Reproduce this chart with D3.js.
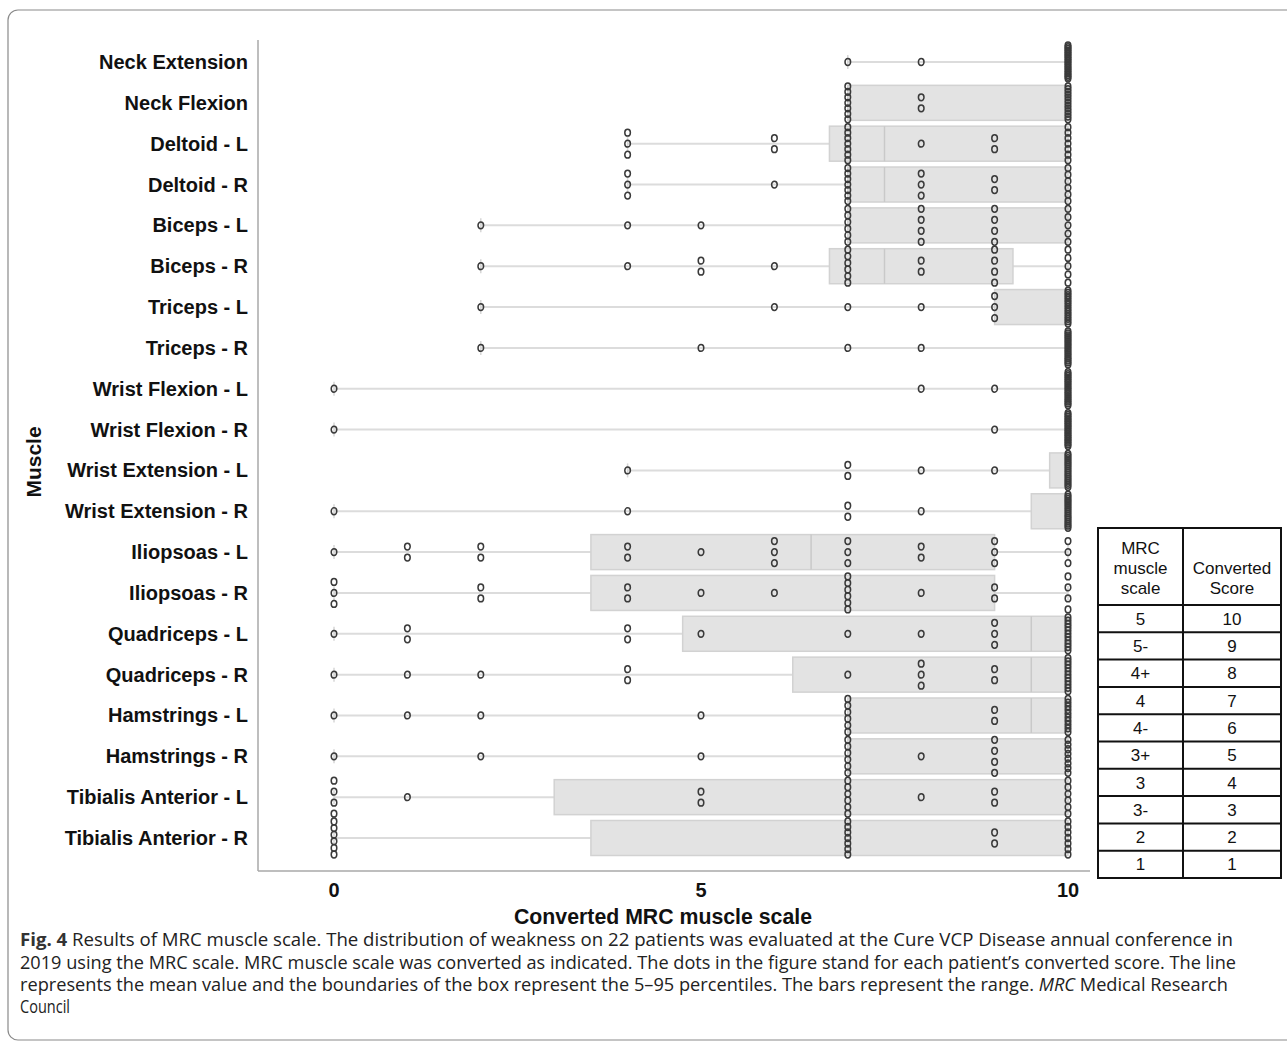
<!DOCTYPE html>
<html>
<head>
<meta charset="utf-8">
<script src="https://cdn.jsdelivr.net/npm/d3@7"></script>
<style>
  body { margin: 0; background: #fff; }
  svg { display: block; }
</style>
</head>
<body>
<svg id="chart" width="1287" height="1046"></svg>
<script>
// muscles, top to bottom
const muscles = [
  'Neck Extension', 'Neck Flexion', 'Deltoid - L', 'Deltoid - R',
  'Biceps - L', 'Biceps - R', 'Triceps - L', 'Triceps - R',
  'Wrist Flexion - L', 'Wrist Flexion - R', 'Wrist Extension - L', 'Wrist Extension - R',
  'Iliopsoas - L', 'Iliopsoas - R', 'Quadriceps - L', 'Quadriceps - R',
  'Hamstrings - L', 'Hamstrings - R', 'Tibialis Anterior - L', 'Tibialis Anterior - R'
];

// number of patients at each converted score 0..10 (22 patients per muscle)
const scores = [0, 1, 2, 3, 4, 5, 6, 7, 8, 9, 10];
const counts = [
  [0,0,0,0,0,0,0,1,1,0,20],
  [0,0,0,0,0,0,0,7,2,0,13],
  [0,0,0,0,3,0,2,7,1,2,7],
  [0,0,0,0,3,0,1,7,3,2,6],
  [0,0,1,0,1,1,0,6,4,4,5],
  [0,0,1,0,1,2,1,6,2,4,5],
  [0,0,1,0,0,0,1,1,1,3,15],
  [0,0,1,0,0,1,0,1,1,0,18],
  [1,0,0,0,0,0,0,0,1,1,19],
  [1,0,0,0,0,0,0,0,0,1,20],
  [0,0,0,0,1,0,0,2,1,1,17],
  [1,0,0,0,1,0,0,2,1,0,17],
  [1,2,2,0,2,1,3,3,2,3,3],
  [3,0,2,0,2,1,1,6,1,2,4],
  [1,2,0,0,2,1,0,1,1,3,11],
  [1,1,1,0,2,0,0,1,3,2,11],
  [1,1,1,0,0,1,0,6,0,2,10],
  [1,0,1,0,0,1,0,6,1,4,8],
  [4,1,0,0,0,2,0,6,1,2,6],
  [6,0,0,0,0,0,0,7,0,2,7]
];

// 5-95 percentile box and centre line (null = not drawn)
const boxLow  = [null, 7, 6.75, 7, 7, 6.75, 9, null, null, null, 9.75, 9.5, 3.5, 3.5, 4.75, 6.25, 7, 7, 3, 3.5];
const boxHigh = [null, 10, 10, 10, 10, 9.25, 10, null, null, null, 10, 10, 9, 9, 10, 10, 10, 10, 10, 10];
const midLine = [null, null, 7.5, 7.5, null, 7.5, null, null, null, null, null, null, 6.5, null, 9.5, 9.5, 9.5, null, null, null];

const xTicks = [0, 5, 10];

// conversion table
const mrcScale = ['5', '5-', '4+', '4', '4-', '3+', '3', '3-', '2', '1'];
const convertedScore = ['10', '9', '8', '7', '6', '5', '4', '3', '2', '1'];

const captionLines = [
  'Results of MRC muscle scale. The distribution of weakness on 22 patients was evaluated at the Cure VCP Disease annual conference in',
  '2019 using the MRC scale. MRC muscle scale was converted as indicated. The dots in the figure stand for each patient\u2019s converted score. The line',
  'represents the mean value and the boundaries of the box represent the 5\u201395 percentiles. The bars represent the range. ',
  'Council'
];

const svg = d3.select('#chart');
const labelFont = 'Liberation Sans, Arial, sans-serif';

// outer frame
svg.append('rect')
  .attr('x', 8).attr('y', 10)
  .attr('width', 1300).attr('height', 1030)
  .attr('rx', 10)
  .attr('fill', 'none')
  .attr('stroke', '#8a8a8a')
  .attr('stroke-width', 1.2);

const x = d3.scaleLinear().domain([0, 10]).range([334, 1068]);
const y = d3.scalePoint().domain(muscles).range([62, 838]);
const boxH = 35;

// plot frame lines
svg.append('line')
  .attr('x1', 258).attr('x2', 258).attr('y1', 40).attr('y2', 871)
  .attr('stroke', '#a8a8a8').attr('stroke-width', 1.5);
svg.append('line')
  .attr('x1', 258).attr('x2', 1090).attr('y1', 871).attr('y2', 871)
  .attr('stroke', '#a8a8a8').attr('stroke-width', 1.5);

const rows = svg.append('g').selectAll('g')
  .data(muscles)
  .join('g')
  .attr('transform', d => `translate(0,${y(d)})`);

rows.each(function (m, i) {
  const g = d3.select(this);
  const present = scores.filter((s, k) => counts[i][k] > 0);
  const lo = d3.min(present), hi = d3.max(present);
  // range bar
  g.append('line')
    .attr('x1', x(lo)).attr('x2', x(hi)).attr('y1', 0).attr('y2', 0)
    .attr('stroke', '#dcdcdc').attr('stroke-width', 2);
  [lo, hi].forEach(v => {
    g.append('line')
      .attr('x1', x(v)).attr('x2', x(v)).attr('y1', -7).attr('y2', 7)
      .attr('stroke', '#d6d6d6').attr('stroke-width', 1.5);
  });

  if (boxLow[i] !== null) {
    g.append('rect')
      .attr('x', x(boxLow[i]))
      .attr('y', -boxH / 2)
      .attr('width', x(boxHigh[i]) - x(boxLow[i]))
      .attr('height', boxH)
      .attr('fill', '#e3e3e3')
      .attr('stroke', '#d2d2d2')
      .attr('stroke-width', 1.5);
  }
  if (midLine[i] !== null) {
    g.append('line')
      .attr('x1', x(midLine[i])).attr('x2', x(midLine[i]))
      .attr('y1', -boxH / 2).attr('y2', boxH / 2)
      .attr('stroke', '#c9c9c9').attr('stroke-width', 1.5);
  }

  // patient dots, stacked vertically
  scores.forEach((s, k) => {
    const n = counts[i][k];
    if (!n) return;
    const step = n > 1 ? Math.min(11, 33 / (n - 1)) : 0;
    d3.range(n).forEach(j => {
      g.append('ellipse')
        .attr('cx', x(s))
        .attr('cy', (j - (n - 1) / 2) * step)
        .attr('rx', 2.8).attr('ry', 3.4)
        .attr('fill', 'none')
        .attr('stroke', '#3a3a3a')
        .attr('stroke-width', 1.5);
    });
  });
});

// y labels
svg.append('g').selectAll('text')
  .data(muscles)
  .join('text')
  .attr('x', 248)
  .attr('y', d => y(d))
  .attr('dy', '0.35em')
  .attr('text-anchor', 'end')
  .attr('font-family', labelFont)
  .attr('font-weight', 'bold')
  .attr('font-size', 20)
  .attr('fill', '#111')
  .text(d => d);

svg.append('text')
  .attr('transform', 'translate(41,462) rotate(-90)')
  .attr('text-anchor', 'middle')
  .attr('font-family', labelFont)
  .attr('font-weight', 'bold')
  .attr('font-size', 21)
  .attr('fill', '#111')
  .text('Muscle');

// x ticks
svg.append('g').selectAll('text')
  .data(xTicks)
  .join('text')
  .attr('x', d => x(d))
  .attr('y', 897)
  .attr('text-anchor', 'middle')
  .attr('font-family', labelFont)
  .attr('font-weight', 'bold')
  .attr('font-size', 20)
  .attr('fill', '#111')
  .text(d => d);

svg.append('text')
  .attr('x', 663)
  .attr('y', 924)
  .attr('text-anchor', 'middle')
  .attr('font-family', labelFont)
  .attr('font-weight', 'bold')
  .attr('font-size', 22)
  .attr('textLength', 298)
  .attr('lengthAdjust', 'spacingAndGlyphs')
  .attr('fill', '#111')
  .text('Converted MRC muscle scale');

// conversion table
const tx0 = 1098, tx1 = 1183, tx2 = 1281, ty0 = 528, tyH = 605, rowH = 27.3;
const table = svg.append('g')
  .attr('font-family', labelFont)
  .attr('font-size', 17)
  .attr('fill', '#111');
table.append('rect')
  .attr('x', tx0).attr('y', ty0)
  .attr('width', tx2 - tx0).attr('height', tyH + rowH * mrcScale.length - ty0)
  .attr('fill', '#fff').attr('stroke', '#111').attr('stroke-width', 2);
table.append('line')
  .attr('x1', tx1).attr('x2', tx1).attr('y1', ty0).attr('y2', tyH + rowH * mrcScale.length)
  .attr('stroke', '#111').attr('stroke-width', 2);
mrcScale.forEach((m, i) => {
  table.append('line')
    .attr('x1', tx0).attr('x2', tx2)
    .attr('y1', tyH + rowH * i).attr('y2', tyH + rowH * i)
    .attr('stroke', '#111').attr('stroke-width', 2);
  table.append('text')
    .attr('x', (tx0 + tx1) / 2).attr('y', tyH + rowH * i + rowH / 2)
    .attr('dy', '0.36em').attr('text-anchor', 'middle').text(m);
  table.append('text')
    .attr('x', (tx1 + tx2) / 2).attr('y', tyH + rowH * i + rowH / 2)
    .attr('dy', '0.36em').attr('text-anchor', 'middle').text(convertedScore[i]);
});
['MRC', 'muscle', 'scale'].forEach((t, i) => {
  table.append('text')
    .attr('x', (tx0 + tx1) / 2).attr('y', 548 + i * 20)
    .attr('dy', '0.36em').attr('text-anchor', 'middle').text(t);
});
['Converted', 'Score'].forEach((t, i) => {
  table.append('text')
    .attr('x', (tx1 + tx2) / 2).attr('y', 568 + i * 20)
    .attr('dy', '0.36em').attr('text-anchor', 'middle').text(t);
});

// caption
const capFont = 'Open Sans, Liberation Sans Narrow, sans-serif';
const capLen = [1213, 1216, 1208, 50];
const capY = [946, 969, 991, 1013];
captionLines.forEach((line, i) => {
  const t = svg.append('text')
    .attr('x', 20).attr('y', capY[i])
    .attr('font-family', capFont)
    .attr('font-size', 18)
    .attr('fill', '#222')
    .attr('textLength', capLen[i])
    .attr('lengthAdjust', 'spacingAndGlyphs');
  if (i === 0) {
    t.append('tspan').attr('font-weight', 'bold').attr('fill', '#333').text('Fig. 4');
    t.append('tspan').text('  ' + line);
  } else if (i === 2) {
    t.append('tspan').text(line);
    t.append('tspan').attr('font-style', 'italic').text('MRC');
    t.append('tspan').text(' Medical Research');
  } else {
    t.text(line);
  }
});
</script>
</body>
</html>
